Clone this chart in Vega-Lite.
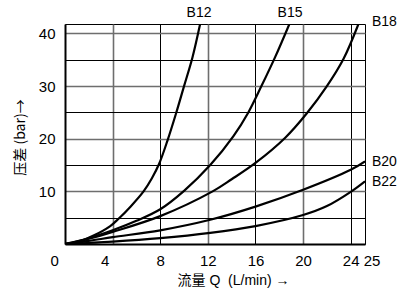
{
  "$schema": "https://vega.github.io/schema/vega-lite/v6.json",
  "width": 300,
  "height": 220,
  "autosize": {"type": "none"},
  "padding": {"left": 65, "top": 24, "right": 37, "bottom": 45},
  "background": "white",
  "config": {
    "font": "Liberation Sans",
    "view": {"stroke": "black", "strokeWidth": 1},
    "axis": {"labelFont": "Liberation Sans", "titleFont": "Liberation Sans, Noto Sans CJK SC", "labelColor": "black", "titleColor": "black", "titleFontWeight": "normal"}
  },
  "datasets": {
    "curves": [
      {"s": "B12", "Q": 0, "P": 0}, {"s": "B12", "Q": 1, "P": 0.35}, {"s": "B12", "Q": 2.4, "P": 1.6}, {"s": "B12", "Q": 3.8, "P": 3.4}, {"s": "B12", "Q": 4.5, "P": 4.8}, {"s": "B12", "Q": 5.5, "P": 7.1}, {"s": "B12", "Q": 6.6, "P": 10}, {"s": "B12", "Q": 7.3, "P": 12.5}, {"s": "B12", "Q": 7.9, "P": 15.2}, {"s": "B12", "Q": 8.6, "P": 19.6}, {"s": "B12", "Q": 9.3, "P": 24.6}, {"s": "B12", "Q": 10, "P": 30}, {"s": "B12", "Q": 10.7, "P": 35.4}, {"s": "B12", "Q": 11.35, "P": 41.8},
      {"s": "B15", "Q": 0, "P": 0}, {"s": "B15", "Q": 2, "P": 1.1}, {"s": "B15", "Q": 4, "P": 2.6}, {"s": "B15", "Q": 6, "P": 4.4}, {"s": "B15", "Q": 8, "P": 6.6}, {"s": "B15", "Q": 10, "P": 10.1}, {"s": "B15", "Q": 12.2, "P": 15}, {"s": "B15", "Q": 14.15, "P": 20.5}, {"s": "B15", "Q": 15.4, "P": 25}, {"s": "B15", "Q": 16.5, "P": 30}, {"s": "B15", "Q": 17.65, "P": 35.5}, {"s": "B15", "Q": 18.85, "P": 41.8},
      {"s": "B18", "Q": 0, "P": 0}, {"s": "B18", "Q": 2, "P": 1.0}, {"s": "B18", "Q": 4, "P": 2.3}, {"s": "B18", "Q": 8, "P": 5.3}, {"s": "B18", "Q": 12.4, "P": 10}, {"s": "B18", "Q": 14, "P": 12.3}, {"s": "B18", "Q": 16, "P": 15.4}, {"s": "B18", "Q": 18.5, "P": 20.2}, {"s": "B18", "Q": 20.3, "P": 24.8}, {"s": "B18", "Q": 22.0, "P": 30}, {"s": "B18", "Q": 23.4, "P": 35.2}, {"s": "B18", "Q": 24.65, "P": 41.8},
      {"s": "B20", "Q": 0, "P": 0}, {"s": "B20", "Q": 2, "P": 0.6}, {"s": "B20", "Q": 4, "P": 1.3}, {"s": "B20", "Q": 8, "P": 2.6}, {"s": "B20", "Q": 12.2, "P": 4.6}, {"s": "B20", "Q": 16, "P": 7.1}, {"s": "B20", "Q": 20, "P": 10.3}, {"s": "B20", "Q": 24, "P": 14.1}, {"s": "B20", "Q": 25.2, "P": 15.7},
      {"s": "B22", "Q": 0, "P": 0}, {"s": "B22", "Q": 4, "P": 0.45}, {"s": "B22", "Q": 8, "P": 1.1}, {"s": "B22", "Q": 12.2, "P": 2.1}, {"s": "B22", "Q": 16, "P": 3.4}, {"s": "B22", "Q": 20, "P": 5.5}, {"s": "B22", "Q": 22, "P": 7.2}, {"s": "B22", "Q": 24, "P": 9.9}, {"s": "B22", "Q": 25.2, "P": 11.9}
    ],
    "labels": [
      {"s": "B12", "Q": 11.26, "P": 43.9, "side": "top"},
      {"s": "B15", "Q": 18.9, "P": 43.9, "side": "top"},
      {"s": "B18", "Q": 25.2, "P": 42.2, "side": "right"},
      {"s": "B20", "Q": 25.2, "P": 15.6, "side": "right"},
      {"s": "B22", "Q": 25.2, "P": 11.8, "side": "right"}
    ]
  },
  "encoding": {
    "x": {
      "field": "Q", "type": "quantitative",
      "scale": {"domain": [0, 25.2], "nice": false, "zero": false},
      "axis": {
        "values": [0, 4, 8, 12, 16, 20, 24, 25],
        "title": "流量 Q\u00a0 (L/min) →",
        "titleFontSize": 14,
        "titleX": 168, "titleY": 36, "titleAlign": "center", "titleBaseline": "middle",
        "labelFontSize": 15, "labelPadding": 9,
        "ticks": false, "tickSize": 0,
        "domainColor": "black", "domainWidth": 2,
        "grid": true,
        "gridColor": {"condition": {"test": "datum.value == 4 || datum.value == 12 || datum.value == 20", "value": "#6e6e6e"}, "value": "black"},
        "gridWidth": {"condition": {"test": "datum.value == 4 || datum.value == 12 || datum.value == 20", "value": 1.6}, "value": 1},
        "gridOpacity": {"condition": {"test": "datum.value == 0 || datum.value == 25", "value": 0}, "value": 1},
        "labelOffset": {"condition": [{"test": "datum.value == 0", "value": -15}, {"test": "datum.value == 4", "value": -8}, {"test": "datum.value == 25", "value": 9}], "value": 0}
      }
    },
    "y": {
      "field": "P", "type": "quantitative",
      "scale": {"domain": [0, 41.8], "nice": false},
      "axis": {
        "values": [0, 5, 10, 15, 20, 25, 30, 35, 40],
        "labelExpr": "datum.value % 10 == 0 && datum.value > 0 ? datum.label : ''",
        "title": "压差 (bar)→",
        "titleFont": "Noto Sans CJK SC",
        "titleFontSize": 14,
        "titleX": -45, "titleY": 113, "titleAlign": "center", "titleBaseline": "middle", "titleAngle": -90,
        "labelFontSize": 15, "labelPadding": 10,
        "ticks": false, "tickSize": 0,
        "domainColor": "black", "domainWidth": 2,
        "grid": true,
        "gridColor": {"condition": {"test": "datum.value % 10 == 0", "value": "#6e6e6e"}, "value": "black"},
        "gridWidth": {"condition": {"test": "datum.value % 10 == 0", "value": 1.6}, "value": 1},
        "gridOpacity": {"condition": {"test": "datum.value == 0", "value": 0}, "value": 1}
      }
    }
  },
  "layer": [
    {
      "data": {"name": "curves"},
      "mark": {"type": "line", "color": "black", "strokeWidth": 2.2, "interpolate": "catmull-rom", "clip": true},
      "encoding": {"detail": {"field": "s"}}
    },
    {
      "data": {"name": "labels"},
      "transform": [{"filter": "datum.side == 'top'"}],
      "mark": {"type": "text", "align": "center", "baseline": "middle", "fontSize": 14, "color": "black", "font": "Liberation Sans", "clip": false},
      "encoding": {"text": {"field": "s"}}
    },
    {
      "data": {"name": "labels"},
      "transform": [{"filter": "datum.side == 'right'"}],
      "mark": {"type": "text", "align": "left", "baseline": "middle", "dx": 7, "fontSize": 14, "color": "black", "font": "Liberation Sans", "clip": false},
      "encoding": {"text": {"field": "s"}}
    }
  ]
}
